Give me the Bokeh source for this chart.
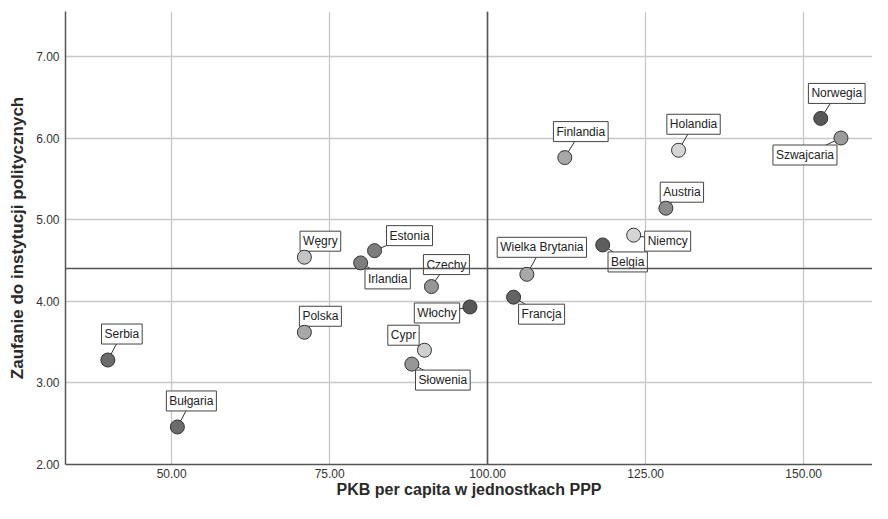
from bokeh.plotting import figure
from bokeh.models import ColumnDataSource, Range1d, FixedTicker, NumeralTickFormatter
from bokeh.core.properties import value
from bokeh.embed import file_html
from bokeh.resources import INLINE

countries = ["Serbia", "Bułgaria", "Węgry", "Polska", "Estonia", "Irlandia", "Czechy",
             "Włochy", "Cypr", "Słowenia", "Wielka Brytania", "Francja", "Finlandia",
             "Holandia", "Austria", "Niemcy", "Belgia", "Norwegia", "Szwajcaria"]
gdp = [39.9, 50.9, 71.0, 71.0, 82.1, 79.9, 91.1, 97.2, 90.0, 88.0, 106.2, 104.1, 112.2,
       130.2, 128.2, 123.1, 118.2, 152.7, 155.9]
trust = [3.28, 2.46, 4.54, 3.62, 4.62, 4.47, 4.18, 3.93, 3.40, 3.23, 4.33, 4.05, 5.76,
         5.85, 5.14, 4.81, 4.69, 6.24, 6.00]
colors = ["#6b6b6b", "#6b6b6b", "#c4c4c4", "#a8a8a8", "#7d7d7d", "#7d7d7d", "#969696",
          "#575757", "#cfcfcf", "#969696", "#a8a8a8", "#636363", "#a8a8a8",
          "#d6d6d6", "#8c8c8c", "#d6d6d6", "#5e5e5e", "#575757", "#9a9a9a"]
# label box offsets from point, in screen pixels (right, up)
lab_dx = [14, 14, 16, 16, 35, 27, 15, -33, -21, 31, 15, 28, 16, 15, 16, 34, 25, 16, -36]
lab_dy = [26, 26, 16, 16, 15, -16, 22, -6, 15, -16, 27, -17, 26, 26, 16, -6, -17, 25, -17]

x_ticks = [50, 75, 100, 125, 150]
y_ticks = [2, 3, 4, 5, 6, 7]
ref_x = 100.0
ref_y = 4.40

W, H = 872, 503
BL, BR, BT, BB = 65, 0, 11, 39
x0 = 33.2
y0, y1 = 2.0, 7.55
sx = 6.32
x1 = x0 + (W - BL - BR) / sx
sy = (H - BT - BB) / (y1 - y0)

lx = [g + dx / sx for g, dx in zip(gdp, lab_dx)]
ly = [t + dy / sy for t, dy in zip(trust, lab_dy)]

src = ColumnDataSource(dict(x=gdp, y=trust, c=colors, name=countries, lx=lx, ly=ly))

p = figure(width=W, height=H, output_backend="svg", toolbar_location=None,
           x_range=Range1d(x0, x1), y_range=Range1d(y0, y1),
           min_border_left=BL, min_border_right=BR, min_border_top=BT, min_border_bottom=BB)
p.outline_line_color = None
p.background_fill_color = "white"

for ax in (p.xaxis[0], p.yaxis[0]):
    ax.major_tick_out = 0
    ax.major_tick_in = 0
    ax.minor_tick_out = 0
    ax.minor_tick_in = 0
    ax.axis_line_color = "#555555"
    ax.axis_line_width = 1.5
    ax.major_label_text_font = "Liberation Sans"
    ax.major_label_text_font_size = "12px"
    ax.major_label_text_color = "#333333"
    ax.axis_label_text_font = "Liberation Sans"
    ax.axis_label_text_font_style = "bold"
    ax.axis_label_text_color = "#2a2a2a"
    ax.formatter = NumeralTickFormatter(format="0.00")

p.xaxis.ticker = FixedTicker(ticks=x_ticks)
p.yaxis.ticker = FixedTicker(ticks=y_ticks)
p.xaxis.axis_label = "PKB per capita w jednostkach PPP"
p.yaxis.axis_label = "Zaufanie do instytucji politycznych"
p.xaxis.axis_label_text_font_size = "16px"
p.yaxis.axis_label_text_font_size = "17px"
p.xaxis.major_label_standoff = 4
p.xaxis.axis_label_standoff = 0
p.yaxis.major_label_standoff = 6
p.yaxis.axis_label_standoff = 6

p.grid.grid_line_color = "#c8c8c8"
p.grid.grid_line_width = 1.3

p.segment(x0="x", y0="y", x1="lx", y1="ly", source=src, line_color="#333333", line_width=1)
p.text(x="lx", y="ly", text="name", source=src, text_align="center", text_baseline="middle",
       text_font=value("Liberation Sans"), text_font_size="12px", text_color="#222222",
       background_fill_color="white", border_line_color="#444444", border_line_width=1,
       padding=3)
p.vspan(x=[ref_x], line_color="#555555", line_width=1.6)
p.hspan(y=[ref_y], line_color="#555555", line_width=1.6)
p.scatter(x="x", y="y", source=src, size=14, fill_color="c", line_color="#333333",
          line_width=1)

open("out.html", "w").write(file_html(p, INLINE))
